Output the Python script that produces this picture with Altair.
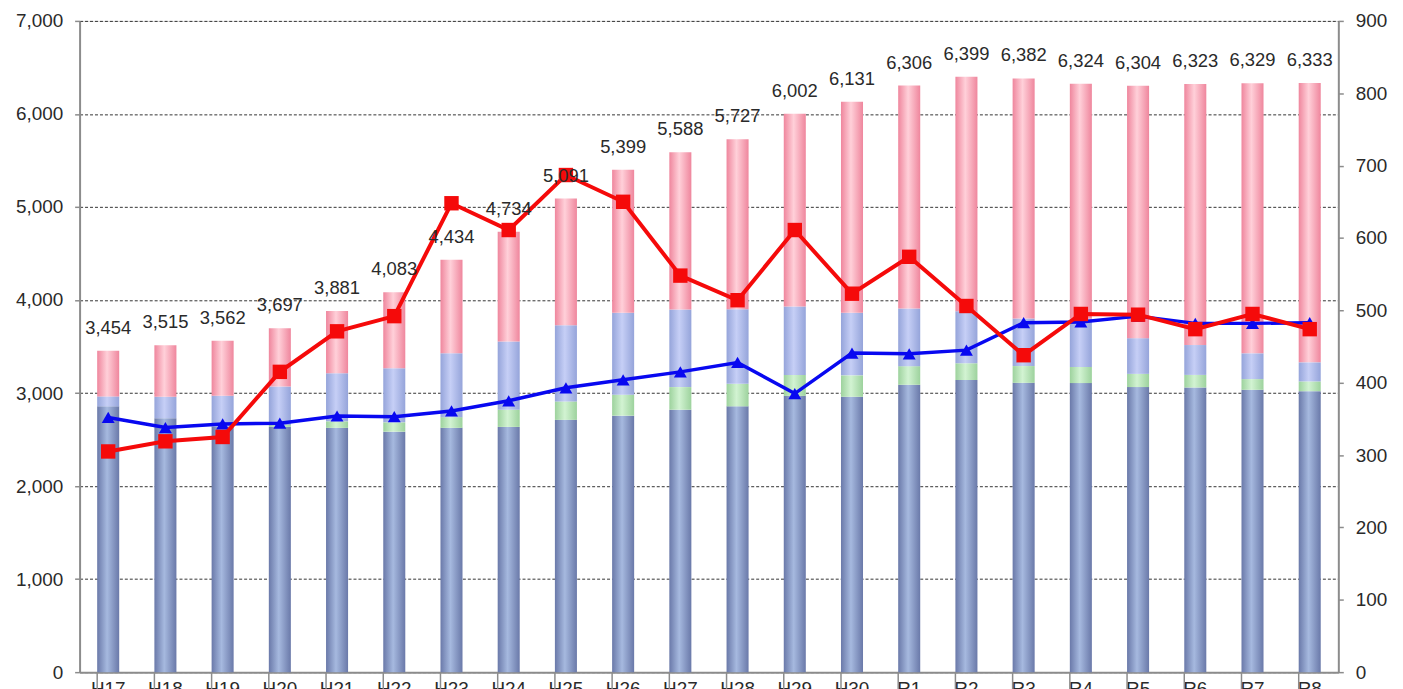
import altair as alt
import pandas as pd

cats = ["H17", "H18", "H19", "H20", "H21", "H22", "H23", "H24", "H25", "H26", "H27",
        "H28", "H29", "H30", "R1", "R2", "R3", "R4", "R5", "R6", "R7", "R8"]

# stacked segments (left axis)
dark = [2857, 2730, 2640, 2636, 2626, 2585, 2626, 2636, 2712, 2757, 2821,
        2857, 2970, 2960, 3089, 3140, 3110, 3107, 3064, 3060, 3035, 3020]
green = [0, 0, 0, 20, 70, 100, 115, 185, 198, 225, 243,
         242, 225, 230, 200, 180, 180, 173, 142, 135, 115, 105]
lightblue = [107, 230, 331, 414, 517, 582, 686, 734, 820, 880, 834,
             801, 735, 672, 619, 560, 510, 520, 384, 321, 277, 205]
totals = [3454, 3515, 3562, 3697, 3881, 4083, 4434, 4734, 5091, 5399, 5588,
          5727, 6002, 6131, 6306, 6399, 6382, 6324, 6304, 6323, 6329, 6333]

# lines (right axis)
red_line = [305, 319, 325, 415, 471, 492, 648, 611, 687, 650, 548,
            514, 611, 523, 574, 506, 438, 495, 494, 474, 495, 474]
blue_line = [352, 338, 343, 344, 354, 353, 361, 375, 393, 404, 415,
             428, 385, 441, 440, 445, 483, 484, 492, 482, 482, 483]

rows = []
for i, c in enumerate(cats):
    b1 = dark[i]
    b2 = b1 + green[i]
    b3 = b2 + lightblue[i]
    b4 = totals[i]
    rows.append({"cat": c, "seg": "dark", "y0": 0, "y1": b1})
    rows.append({"cat": c, "seg": "green", "y0": b1, "y1": b2})
    rows.append({"cat": c, "seg": "lightblue", "y0": b2, "y1": b3})
    rows.append({"cat": c, "seg": "pink", "y0": b3, "y1": b4})
seg_df = pd.DataFrame(rows)
tot_df = pd.DataFrame({"cat": cats, "total": totals})
line_df = pd.DataFrame({"cat": cats, "red": red_line, "blue": blue_line})

FONT = "Liberation Sans"
AXIS_GRAY = "#8c8c8c"
TEXT = "#2a2a2a"
AX_FS = 19

xscale = alt.Scale(paddingInner=0.615, paddingOuter=0.3075)
x_axis = alt.Axis(title=None, labelAngle=0, ticks=False, domainColor=AXIS_GRAY,
                  domainWidth=2, labelFont=FONT, labelFontSize=AX_FS,
                  labelColor=TEXT, labelPadding=7)
x_enc = alt.X("cat:N", sort=cats, scale=xscale, axis=x_axis)

y_left_scale = alt.Scale(domain=[0, 7000], nice=False)
y_left_axis = alt.Axis(title=None, values=list(range(0, 7001, 1000)),
                       labelExpr="format(datum.value, ',')",
                       grid=True, gridDash=[3, 2], gridColor="#333", gridWidth=1,
                       domainColor=AXIS_GRAY, domainWidth=2, tickColor=AXIS_GRAY,
                       tickSize=5, tickWidth=1.5, labelPadding=12, labelFont=FONT,
                       labelFontSize=AX_FS, labelColor=TEXT)


def grad(edge, mid):
    return alt.LinearGradient(gradient="linear", x1=0, x2=1, y1=0, y2=0,
                              stops=[alt.GradientStop(offset=0, color=edge),
                                     alt.GradientStop(offset=0.45, color=mid),
                                     alt.GradientStop(offset=1, color=edge)])


seg_colors = {
    "dark": grad("#6a79a9", "#a6b9df"),
    "green": grad("#9dd29d", "#d2f3d2"),
    "lightblue": grad("#95a4da", "#c6cff6"),
    "pink": grad("#ef869d", "#ffd0d9"),
}

bar_layers = []
for seg in ["dark", "green", "lightblue", "pink"]:
    bar_layers.append(
        alt.Chart(seg_df).transform_filter(alt.datum.seg == seg)
        .mark_bar(color=seg_colors[seg])
        .encode(x=x_enc,
                y=alt.Y("y0:Q", scale=y_left_scale, axis=y_left_axis),
                y2="y1:Q")
    )

separators = alt.Chart(tot_df).mark_rule(color=AXIS_GRAY, strokeWidth=1.5).encode(
    x=alt.X("cat:N", sort=cats, scale=xscale, bandPosition=0, axis=x_axis),
    y=alt.value(655),
    y2=alt.value(685),
)

left = alt.layer(*bar_layers, separators)

y_right = alt.Scale(domain=[0, 900], nice=False)
y_right_axis = alt.Axis(title=None, orient="right", values=list(range(0, 901, 100)),
                        grid=False, domainColor=AXIS_GRAY, domainWidth=2,
                        tickColor=AXIS_GRAY, tickSize=5, tickWidth=1.5,
                        labelPadding=12, labelFont=FONT, labelFontSize=AX_FS,
                        labelColor=TEXT)

blue_l = alt.Chart(line_df).mark_line(color="#0808f0", strokeWidth=3.5).encode(
    x=x_enc, y=alt.Y("blue:Q", scale=y_right, axis=y_right_axis))
blue_p = alt.Chart(line_df).mark_point(shape="triangle-up", filled=True, opacity=1,
                                       size=170, color="#0808f0").encode(
    x=x_enc, y=alt.Y("blue:Q", scale=y_right, axis=y_right_axis))
red_l = alt.Chart(line_df).mark_line(color="#f50a0a", strokeWidth=4).encode(
    x=x_enc, y=alt.Y("red:Q", scale=y_right, axis=y_right_axis))
red_p = alt.Chart(line_df).mark_point(shape="square", filled=True, opacity=1,
                                      size=210, color="#f50a0a").encode(
    x=x_enc, y=alt.Y("red:Q", scale=y_right, axis=y_right_axis))

right = alt.layer(blue_l, blue_p, red_l, red_p)

labels = alt.Chart(tot_df).mark_text(dy=-23, font=FONT, fontSize=18.5, color=TEXT,
                                     baseline="middle").encode(
    x=x_enc,
    y=alt.Y("total:Q", scale=alt.Scale(domain=[0, 7000], nice=False), axis=None),
    text=alt.Text("total:Q", format=","),
)

chart = alt.layer(left, right, labels).resolve_scale(y="independent").properties(
    width=1266, height=655,
    autosize=alt.AutoSizeParams(type="none"),
    padding={"left": 72, "top": 11, "right": 57, "bottom": 20},
).configure_view(stroke=None).configure(background="white")

chart.save("out.html", embed_options={"renderer": "svg", "actions": False})
